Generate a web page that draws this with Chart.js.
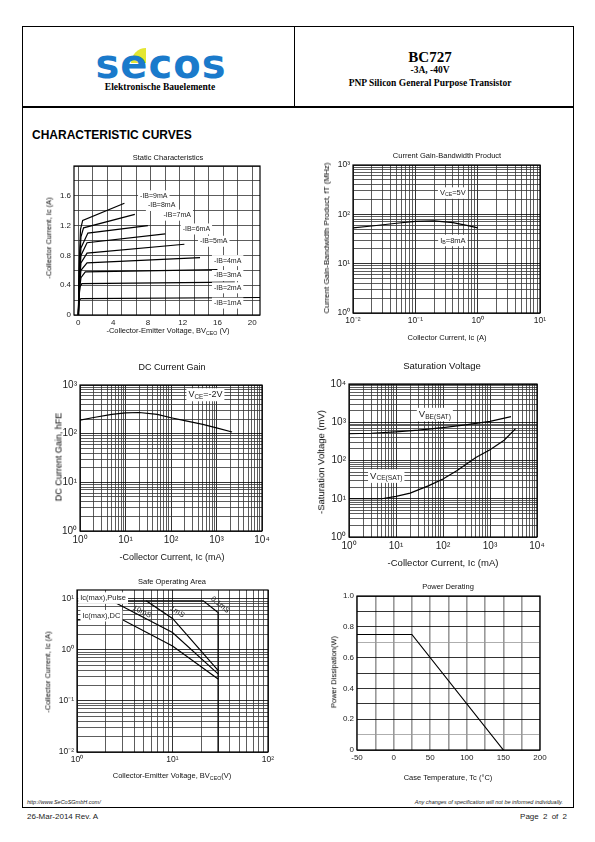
<!DOCTYPE html>
<html>
<head>
<meta charset="utf-8">
<script src="https://cdn.jsdelivr.net/npm/chart.js@4.4.1/dist/chart.umd.min.js"></script>
<style>
  body { margin: 0; width: 595px; height: 842px; background: #fff; position: relative; font-family: "Liberation Sans", Arial, sans-serif; overflow: hidden; }
  .abs { position: absolute; }
  canvas { position: absolute; }
  .t { position: absolute; white-space: nowrap; transform: translate(-50%, -50%); color: #111; line-height: 1; }
  .t sub { font-size: 70%; vertical-align: -0.25em; line-height: 0; }
  .serif { font-family: "Liberation Serif", "Times New Roman", serif; font-weight: bold; color: #000; }
</style>
</head>
<body>
<!-- page frame -->
<div class="abs" style="left:22px;top:26px;width:552px;height:782px;border:1.5px solid #000;box-sizing:border-box"></div>
<div class="abs" style="left:22px;top:105.5px;width:552px;height:2.5px;background:#000"></div>
<div class="abs" style="left:293.5px;top:26px;width:1.5px;height:81px;background:#000"></div>

<!-- logo -->
<div class="abs" style="left:131px;top:48px;width:15px;height:15px;background:#e4e633;border-top-left-radius:15px"></div>
<div class="t" style="left:161px;top:64px;font:bold 40px 'DejaVu Sans',sans-serif;color:#1a7acb;letter-spacing:1px">secos</div>
<div class="t serif" style="left:160px;top:88px;font-size:9.5px">Elektronische Bauelemente</div>

<div class="t serif" style="left:430px;top:57px;font-size:15px">BC727</div>
<div class="t serif" style="left:430px;top:71px;font-size:9.5px">-3A, -40V</div>
<div class="t serif" style="left:430px;top:84px;font-size:9.5px">PNP Silicon General Purpose Transistor</div>

<div class="abs" style="left:32px;top:128px;font:bold 12px 'Liberation Sans',Arial,sans-serif;color:#000">CHARACTERISTIC CURVES</div>

<!-- footer -->
<div class="abs" style="left:27px;top:799px;font:italic 5.5px 'Liberation Sans',Arial,sans-serif;color:#222">http://www.SeCoSGmbH.com/</div>
<div class="abs" style="right:32px;top:799px;font:italic 5.5px 'Liberation Sans',Arial,sans-serif;color:#222">Any changes of specification will not be informed individually.</div>
<div class="abs" style="left:27px;top:812px;font:8px 'Liberation Sans',Arial,sans-serif;color:#222">26-Mar-2014 Rev. A</div>
<div class="abs" style="right:28px;top:812px;font:8px 'Liberation Sans',Arial,sans-serif;color:#222;word-spacing:2px">Page 2 of 2</div>

<script>
const FONT = "'Liberation Sans', Arial, sans-serif";

// ---- Static Characteristics (Vce in V, Ic in A) ----
// the grid of this plot is not on the labelled values: 12 columns over 0..20 V
const staticXGrid = [0, 1.667, 3.333, 5, 6.667, 8.333, 10, 11.667, 13.333, 15, 16.667, 18.333, 20];
const staticXLabels = [0, 4, 8, 12, 16, 20];
const staticYTicks = [0, 0.2, 0.4, 0.6, 0.8, 1.0, 1.2, 1.4, 1.6, 1.8, 2.0];
const staticYLabels = [0, 0.4, 0.8, 1.2, 1.6];
const ib1 = [[0, 0], [0.05, 0.12], [0.12, 0.2], [0.3, 0.22], [20.9, 0.235]];
const ib2 = [[0, 0], [0.08, 0.25], [0.2, 0.38], [0.4, 0.42], [18, 0.44]];
const ib3 = [[0, 0], [0.1, 0.3], [0.3, 0.5], [0.8, 0.58], [16, 0.61]];
const ib4 = [[0, 0], [0.1, 0.35], [0.3, 0.6], [1, 0.7], [14, 0.77]];
const ib5 = [[0, 0], [0.1, 0.4], [0.3, 0.7], [1, 0.83], [12.2, 0.95]];
const ib6 = [[0, 0], [0.1, 0.45], [0.3, 0.8], [1, 0.97], [10, 1.09]];
const ib7 = [[0, 0], [0.1, 0.5], [0.3, 0.9], [1.1, 1.1], [8, 1.2]];
const ib8 = [[0, 0], [0.1, 0.6], [0.3, 1.05], [0.6, 1.17], [6.5, 1.35]];
const ib9 = [[0, 0], [0.1, 0.7], [0.25, 1.15], [0.5, 1.27], [5.3, 1.5]];
const ibNames = ["-IB=1mA", "-IB=2mA", "-IB=3mA", "-IB=4mA", "-IB=5mA", "-IB=6mA", "-IB=7mA", "-IB=8mA", "-IB=9mA"];
const ibLabelX = [15.6, 15.6, 15.6, 15.6, 14.0, 12.0, 9.8, 8.0, 7.1];
const ibLabelY = [0.16, 0.365, 0.53, 0.73, 0.99, 1.155, 1.34, 1.47, 1.6];

// ---- Current Gain-Bandwidth Product ----
const gbwIc = [0.01, 0.02, 0.05, 0.1, 0.2, 0.4, 0.7, 1.0];
const gbwFt = [53, 58, 66, 72, 74, 68, 59, 53];

// ---- DC Current Gain ----
const hfeIc = [1, 2, 5, 10, 20, 50, 100, 200, 500, 1000, 2200];
const hfeVal = [190, 215, 250, 268, 272, 250, 212, 185, 155, 132, 108];

// ---- Saturation Voltage ----
const vbeIc = [1, 3, 10, 30, 100, 300, 1000, 2800];
const vbeSat = [500, 515, 560, 620, 720, 850, 1050, 1400];
const vceIc = [1, 5, 10, 20, 50, 100, 200, 500, 1000, 2000, 3500];
const vceSat = [10, 10, 11.5, 14, 22, 33, 55, 120, 190, 340, 680];

// ---- Safe Operating Area (V, A) ----
const soaPulseV = [1, 21, 30, 30];
const soaPulseI = [9.2, 9.2, 5.4, 0.01];
const soa1msV = [5.3, 10, 30];
const soa1msI = [9.2, 4.15, 0.4];
const soa10msV = [2.3, 10, 30];
const soa10msI = [9.2, 2.2, 0.34];
const soaDcV = [1, 3, 10, 30];
const soaDcI = [3.9, 3.9, 1.2, 0.27];

// ---- Power Derating ----
const pdTemp = [-50, 25, 150];
const pdPower = [0.75, 0.75, 0];
const pdXTicks = [-50, -25, 0, 25, 50, 75, 100, 125, 150, 175, 200];
const pdXLabels = [-50, 0, 50, 100, 150, 200];
const pdYTicks = [0, 0.1, 0.2, 0.3, 0.4, 0.5, 0.6, 0.7, 0.8, 0.9, 1.0];
const pdYLabels = [0, 0.2, 0.4, 0.6, 0.8, 1.0];

// ---------- helpers ----------
const SUP = { "-": "\u207B", "0": "\u2070", "1": "\u00B9", "2": "\u00B2", "3": "\u00B3", "4": "\u2074" };
function isPow10(v) {
  const e = Math.log10(v);
  return Math.abs(e - Math.round(e)) < 1e-9;
}
function powLabel(v) {
  if (!isPow10(v)) return "";
  return "10" + String(Math.round(Math.log10(v))).split("").map((c) => SUP[c]).join("");
}
function logTicks(a, b) {
  const out = [];
  for (let d = a; d < b; d++) {
    for (let m = 1; m < 10; m++) out.push(m * Math.pow(10, d));
  }
  out.push(Math.pow(10, b));
  return out;
}
const near = (list, v) => list.some((t) => Math.abs(t - v) < 1e-3);
function pickLabel(list, fmt) {
  return (v) => {
    const hit = list.find((t) => Math.abs(t - v) < 1e-6);
    return hit === undefined ? "" : fmt(hit);
  };
}
const fmt1 = (v) => (v === 0 ? "0" : v.toFixed(1));
const pairs = (xs, ys) => xs.map((x, i) => ({ x: x, y: ys[i] }));
const pts = (arr) => arr.map((p) => ({ x: p[0], y: p[1] }));

// fixed box sizes for the axes so the plot frame lands where we want it
const PAD = { l: 44, t: 8, r: 14, b: 24 };
const YW = 40, XH = 20;

function axis(type, min, max, ticks, labelFn, size, color, width, isY) {
  return {
    type: type,
    min: min,
    max: max,
    afterBuildTicks: (s) => {
      s.ticks = ticks.map((v) => ({ value: v }));
    },
    afterFit: (s) => {
      if (isY) s.width = YW;
      else s.height = XH;
      s.paddingLeft = s.paddingRight = s.paddingTop = s.paddingBottom = 0;
    },
    grid: { color: color, lineWidth: width, drawTicks: false },
    border: { display: false },
    ticks: {
      autoSkip: false,
      maxRotation: 0,
      padding: 3,
      color: "#222",
      font: { size: size, family: FONT },
      callback: labelFn,
    },
  };
}

function richWidth(ctx, parts, size) {
  let w = 0;
  parts.forEach((p) => {
    ctx.font = (p[1] ? size * 0.7 : size) + "px " + FONT;
    w += ctx.measureText(p[0]).width;
  });
  return w;
}

const framePlugin = {
  id: "frame",
  afterDatasetsDraw(chart, args, opts) {
    const ctx = chart.ctx;
    const sx = chart.scales.x, sy = chart.scales.y;
    (opts.labels || []).forEach((l) => {
      const px = sx.getPixelForValue(l.x);
      const py = sy.getPixelForValue(l.y);
      const w = richWidth(ctx, l.parts, l.size);
      ctx.save();
      ctx.translate(px, py);
      if (l.rot) ctx.rotate((l.rot * Math.PI) / 180);
      let x0 = l.align === "center" ? -w / 2 : 0;
      if (l.bg !== false) {
        ctx.fillStyle = "#fff";
        ctx.fillRect(x0 - 2, -l.size / 2 - 2, w + 4, l.size + 4);
      }
      ctx.fillStyle = "#222";
      ctx.textBaseline = "middle";
      ctx.textAlign = "left";
      l.parts.forEach((p) => {
        const s = p[1] ? l.size * 0.7 : l.size;
        ctx.font = s + "px " + FONT;
        ctx.fillText(p[0], x0, p[1] ? l.size * 0.25 : 0);
        x0 += ctx.measureText(p[0]).width;
      });
      ctx.restore();
    });
  },
  afterDraw(chart) {
    const a = chart.chartArea;
    const ctx = chart.ctx;
    ctx.save();
    ctx.strokeStyle = "#000";
    ctx.lineWidth = 1.2;
    ctx.strokeRect(a.left, a.top, a.right - a.left, a.bottom - a.top);
    ctx.restore();
  },
};
Chart.register(framePlugin);

function makeChart(frame, xs, ys, datasets, labels) {
  const c = document.createElement("canvas");
  c.width = frame.r - frame.l + PAD.l + PAD.r;
  c.height = frame.b - frame.t + PAD.t + PAD.b;
  c.style.left = frame.l - PAD.l + "px";
  c.style.top = frame.t - PAD.t + "px";
  document.body.appendChild(c);
  new Chart(c, {
    type: "scatter",
    data: {
      datasets: datasets.map((d) => ({
        data: d,
        showLine: true,
        borderColor: "#000",
        borderWidth: 1.2,
        pointRadius: 0,
        tension: 0,
      })),
    },
    options: {
      responsive: false,
      animation: false,
      events: [],
      layout: { padding: { left: PAD.l - YW, top: PAD.t, right: PAD.r, bottom: PAD.b - XH } },
      plugins: { legend: { display: false }, tooltip: { enabled: false }, frame: { labels: labels } },
      scales: { x: xs, y: ys },
    },
  });
}

function addText(html, x, y, size, rotate) {
  const d = document.createElement("div");
  d.className = "t";
  d.style.left = x + "px";
  d.style.top = y + "px";
  d.style.fontSize = size + "px";
  if (rotate) {
    d.style.transform = "translate(-50%, -50%) rotate(-90deg)";
    d.style.color = "#000";
  }
  d.innerHTML = html;
  document.body.appendChild(d);
}

const logGridColor = (c) => (isPow10(c.tick.value) ? "#000" : "#333");

// 1. Static Characteristics
const staticXTicks = staticXGrid.concat(staticXLabels.filter((v) => !near(staticXGrid, v))).sort((a, b) => a - b);
makeChart(
  { l: 74, t: 166, r: 260, b: 315 },
  axis("linear", -0.5, 20.9, staticXTicks, pickLabel(staticXLabels, String), 8,
    (c) => (near(staticXGrid, c.tick.value) ? "#333" : "rgba(0,0,0,0)"), 0.8, false),
  axis("linear", 0, 2.0, staticYTicks, pickLabel(staticYLabels, fmt1), 8, "#333", 0.8, true),
  [ib1, ib2, ib3, ib4, ib5, ib6, ib7, ib8, ib9].map(pts),
  ibNames.map((n, i) => ({ parts: [[n, 0]], x: ibLabelX[i], y: ibLabelY[i], size: 7 }))
);
addText("Static Characteristics", 168, 158, 7.5);
addText("-Collector Current, Ic (A)", 49, 238, 7.5, true);
addText("-Collector-Emitter Voltage, BV<sub>CEO</sub> (V)", 168, 331, 7.5);

// 2. Current Gain-Bandwidth Product
makeChart(
  { l: 353, t: 165, r: 540, b: 313 },
  axis("logarithmic", 0.01, 10, logTicks(-2, 1), powLabel, 8.5, logGridColor, 0.8, false),
  axis("logarithmic", 1, 1000, logTicks(0, 3), powLabel, 8.5, logGridColor, 0.8, true),
  [pairs(gbwIc, gbwFt)],
  [
    { parts: [["V", 0], ["CE", 1], ["=5V", 0]], x: 0.4, y: 270, size: 7.5, align: "center" },
    { parts: [["I", 0], ["B", 1], ["=8mA", 0]], x: 0.4, y: 29.5, size: 7.5, align: "center" },
  ]
);
addText("Current Gain-Bandwidth Product", 447, 156, 7.5);
addText("Current Gain-Bandwidth Product, fT (MHz)", 327, 238, 8, true);
addText("Collector Current, Ic (A)", 447, 338, 7.5);

// 3. DC Current Gain
makeChart(
  { l: 80, t: 385, r: 262, b: 531 },
  axis("logarithmic", 1, 10000, logTicks(0, 4), powLabel, 10, logGridColor, 0.8, false),
  axis("logarithmic", 1, 1000, logTicks(0, 3), powLabel, 10, logGridColor, 0.8, true),
  [pairs(hfeIc, hfeVal)],
  [{ parts: [["V", 0], ["CE", 1], ["=-2V", 0]], x: 570, y: 630, size: 9, align: "center" }]
);
addText("DC Current Gain", 172, 367, 9);
addText("DC Current Gain, hFE", 59, 457, 9, true);
addText("-Collector Current, Ic (mA)", 172, 557, 9);

// 4. Saturation Voltage
makeChart(
  { l: 349, t: 384, r: 537, b: 537 },
  axis("logarithmic", 1, 10000, logTicks(0, 4), powLabel, 10, logGridColor, 0.8, false),
  axis("logarithmic", 1, 10000, logTicks(0, 4), powLabel, 10, logGridColor, 0.8, true),
  [pairs(vbeIc, vbeSat), pairs(vceIc, vceSat)],
  [
    { parts: [["V", 0], ["BE(SAT)", 1]], x: 67, y: 1590, size: 9.5, align: "center" },
    { parts: [["V", 0], ["CE(SAT)", 1]], x: 6.2, y: 39, size: 9.5, align: "center" },
  ]
);
addText("Saturation Voltage", 442, 366, 9.5);
addText("-Saturation Voltage (mV)", 321, 462, 9.5, true);
addText("-Collector Current, Ic (mA)", 443, 563, 9.5);

// 5. Safe Operating Area
makeChart(
  { l: 77, t: 590, r: 268, b: 752 },
  axis("logarithmic", 1, 100, logTicks(0, 2), powLabel, 8.5, logGridColor, 0.8, false),
  axis("logarithmic", 0.01, 15, logTicks(-2, 1), powLabel, 8.5, logGridColor, 0.8, true),
  [pairs(soaPulseV, soaPulseI), pairs(soa1msV, soa1msI), pairs(soa10msV, soa10msI), pairs(soaDcV, soaDcI)],
  [
    { parts: [["Ic(max),Pulse", 0]], x: 1.08, y: 10.4, size: 7.5 },
    { parts: [["Ic(max),DC", 0]], x: 1.14, y: 4.7, size: 7.5 },
    { parts: [["10mS", 0]], x: 4.8, y: 5.6, size: 7.5, align: "center", rot: 25, bg: false },
    { parts: [["1mS", 0]], x: 11.2, y: 5.6, size: 7.5, align: "center", rot: 32, bg: false },
    { parts: [["0.1mS", 0]], x: 31.5, y: 7.7, size: 7.5, align: "center", rot: 40, bg: false },
  ]
);
addText("Safe Operating Area", 172, 582, 7.5);
addText("-Collector Current, Ic (A)", 48, 672, 7.5, true);
addText("Collector-Emitter Voltage, BV<sub>CEO</sub>(V)", 172, 776, 7.5);

// 6. Power Derating
makeChart(
  { l: 357, t: 596, r: 540, b: 750 },
  axis("linear", -50, 200, pdXTicks, pickLabel(pdXLabels, String), 8, "#999", 1.6, false),
  axis("linear", 0, 1.0, pdYTicks, pickLabel(pdYLabels, fmt1), 8,
    (c) => (Math.abs(c.tick.value - 0.1) < 1e-6 || Math.abs(c.tick.value - 0.7) < 1e-6 ? "#999" : "#000"), 0.8, true),
  [pairs(pdTemp, pdPower)],
  []
);
addText("Power Derating", 448, 587, 7.5);
addText("Power Dissipation(W)", 334, 672, 7.5, true);
addText("Case Temperature, Tc (°C)", 448, 778, 7.5);
</script>
</body>
</html>
